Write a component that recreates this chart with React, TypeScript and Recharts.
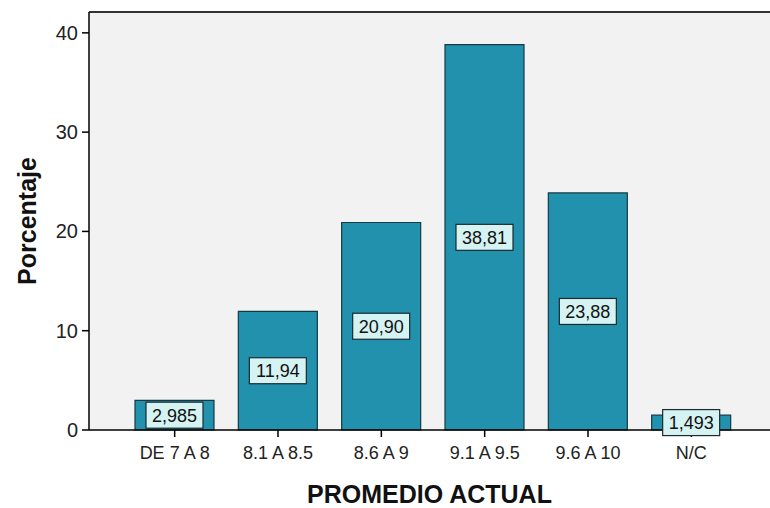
import React from 'react';
import { BarChart, Bar, XAxis, YAxis, LabelList, Label } from 'recharts';

const categories = ['DE 7 A 8', '8.1 A 8.5', '8.6 A 9', '9.1 A 9.5', '9.6 A 10', 'N/C'];
const percentages = [2.985, 11.94, 20.9, 38.81, 23.88, 1.493];
const valueLabels = ['2,985', '11,94', '20,90', '38,81', '23,88', '1,493'];
const yTicks = [0, 10, 20, 30, 40];

const data = categories.map((c, i) => ({ name: c, value: percentages[i], label: valueLabels[i] }));

const FONT = 'Liberation Sans, Arial, sans-serif';

const ValueBox = (props: any) => {
  const { x, y, width, height, index } = props;
  const cx = x + width / 2;
  const cy = y + height / 2;
  const text = valueLabels[index];
  const w = 57;
  const h = 26;
  return (
    <g>
      <rect x={cx - w / 2} y={cy - h / 2} width={w} height={h} fill="#d6f3f3" stroke="#1a2a2e" strokeWidth={1.2} />
      <text x={cx} y={cy + 6.5} textAnchor="middle" fontFamily={FONT} fontSize={18} fill="#111">
        {text}
      </text>
    </g>
  );
};

const XTick = (props: any) => {
  const { x, y, payload } = props;
  return (
    <text x={x} y={y + 20} textAnchor="middle" fontFamily={FONT} fontSize={18} fill="#222">
      {payload.value}
    </text>
  );
};

const YTick = (props: any) => {
  const { x, y, payload } = props;
  return (
    <text x={x - 2} y={y + 7} textAnchor="end" fontFamily={FONT} fontSize={20} fill="#222">
      {payload.value}
    </text>
  );
};

export default function App() {
  return (
    <div style={{ position: 'absolute', left: 0, top: 0, width: 770, height: 508, background: '#fff' }}>
      <BarChart
        width={770}
        height={508}
        data={data}
        margin={{ top: 12, right: 0, bottom: 0, left: 0 }}
        barCategoryGap={12}
      >
        <rect x={89} y={12} width={681} height={418} fill="#f2f2f2" />
        <line x1={89} y1={12} x2={770} y2={12} stroke="#333" strokeWidth={2} />
        <XAxis
          dataKey="name"
          height={78}
          padding={{ left: 34, right: 27 }}
          axisLine={{ stroke: '#000', strokeWidth: 1.5 }}
          tickLine={{ stroke: '#000', strokeWidth: 1.5 }}
          tickSize={7}
          tick={<XTick />}
          interval={0}
        >
          <Label
            value="PROMEDIO ACTUAL"
            position="insideBottom"
            offset={5}
            style={{ fill: '#111', fontSize: 25, fontWeight: 'bold', fontFamily: FONT }}
          />
        </XAxis>
        <YAxis
          domain={[0, 42.1]}
          ticks={yTicks}
          width={89}
          axisLine={{ stroke: '#000', strokeWidth: 1.5 }}
          tickLine={{ stroke: '#000', strokeWidth: 1.5 }}
          tickSize={7}
          tick={<YTick />}
        >
          <Label
            value="Porcentaje"
            angle={-90}
            position="insideLeft"
            offset={27}
            style={{ textAnchor: 'middle', fill: '#111', fontSize: 25, fontWeight: 'bold', fontFamily: FONT }}
          />
        </YAxis>
        <Bar dataKey="value" fill="#2191ad" stroke="#163a44" strokeWidth={1.2} isAnimationActive={false}>
          <LabelList dataKey="value" content={<ValueBox />} />
        </Bar>
      </BarChart>
    </div>
  );
}
